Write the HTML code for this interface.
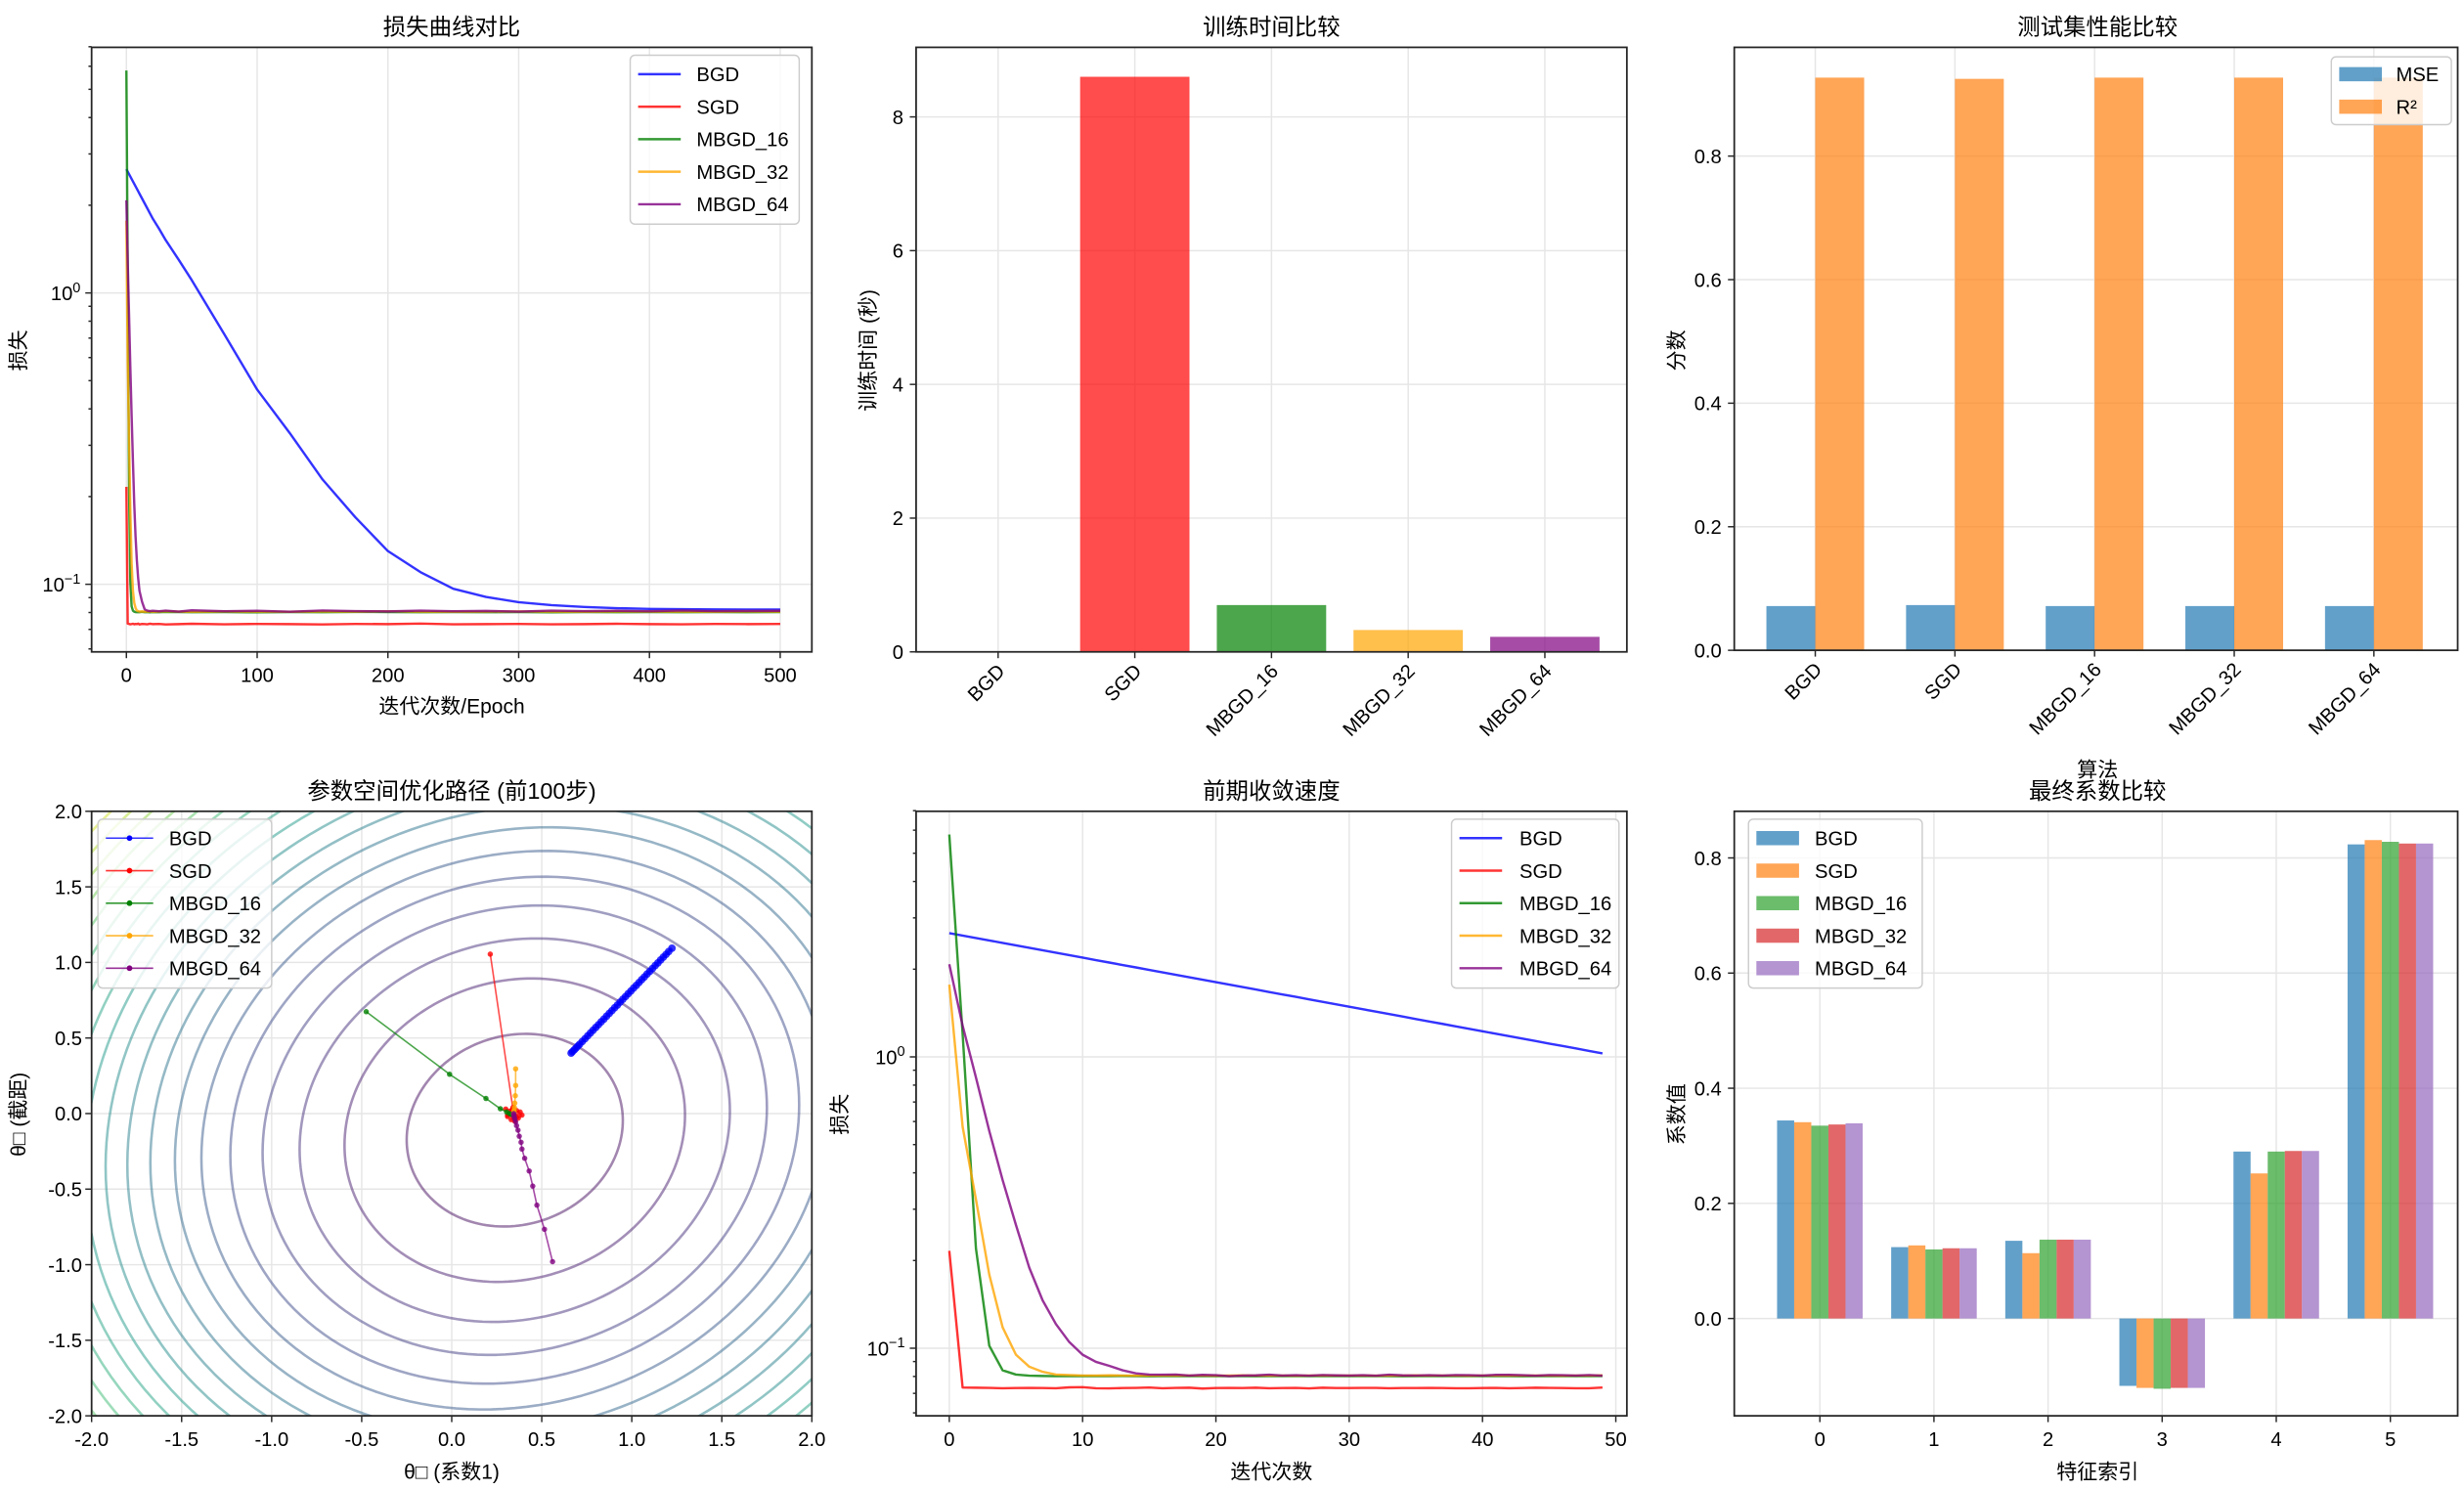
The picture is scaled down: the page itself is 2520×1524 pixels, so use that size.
<!DOCTYPE html>
<html><head><meta charset="utf-8">
<style>
html,body{margin:0;padding:0;background:#fff;width:2520px;height:1524px;overflow:hidden;}
svg{display:block;font-family:"Liberation Sans","Noto Sans CJK SC",sans-serif;}
</style></head>
<body>
<svg id="chart" xmlns="http://www.w3.org/2000/svg" width="2520" height="1524" viewBox="0 0 1560 944" preserveAspectRatio="none">
<defs>
<clipPath id="clip4"><rect x="58" y="514" width="456" height="383"/></clipPath>
</defs>
</svg>
<script>
// ---------- DATA ----------
const algos = ["BGD","SGD","MBGD_16","MBGD_32","MBGD_64"];
const lossEpochs = [0,1,2,3,4,5,6,7,8,9,10,12,14,16,18,20,25,30,40,50,75,100,125,150,175,200,225,250,275,300,325,350,375,400,425,450,475,500];
const lossBGD = [2.660,2.609,2.559,2.510,2.462,2.414,2.368,2.322,2.278,2.234,2.191,2.108,2.028,1.951,1.876,1.805,1.66,1.52,1.30,1.106,0.72,0.466,0.33,0.229,0.170,0.130,0.110,0.0965,0.0905,0.0868,0.0848,0.0836,0.0828,0.0823,0.0821,0.0820,0.0819,0.0819];
const lossSGD = [0.216,0.0733,0.0731,0.0729,0.0730,0.0732,0.0729,0.0731,0.0730,0.0733,0.0728,0.0731,0.0730,0.0729,0.0732,0.0730,0.0731,0.0728,0.0730,0.0732,0.0729,0.0731,0.0730,0.0728,0.0731,0.0730,0.0733,0.0729,0.0730,0.0731,0.0729,0.0730,0.0732,0.0730,0.0729,0.0731,0.0730,0.0731];
const lossM16 = [5.8,1.2,0.22,0.102,0.084,0.0812,0.0805,0.0803,0.0802,0.0803,0.0802,0.0804,0.0802,0.0803,0.0801,0.0803,0.0802,0.0804,0.0803,0.0802,0.0803,0.0801,0.0803,0.0802,0.0804,0.0803,0.0802,0.0803,0.0802,0.0803,0.0801,0.0803,0.0802,0.0803,0.0802,0.0803,0.0802,0.0803];
const lossM32 = [1.77,0.576,0.324,0.179,0.118,0.095,0.0864,0.083,0.0812,0.0809,0.0806,0.0807,0.0805,0.0806,0.0807,0.0805,0.0806,0.0808,0.0806,0.0805,0.0807,0.0806,0.0805,0.0807,0.0806,0.0808,0.0806,0.0805,0.0806,0.0807,0.0806,0.0805,0.0807,0.0806,0.0806,0.0805,0.0807,0.0806];
const lossM64 = [2.08,1.28,0.85,0.557,0.378,0.265,0.189,0.146,0.121,0.105,0.095,0.087,0.082,0.0812,0.0809,0.0811,0.0808,0.0812,0.0806,0.0814,0.0808,0.0811,0.0805,0.0813,0.0809,0.0807,0.0812,0.0808,0.0810,0.0806,0.0812,0.0809,0.0811,0.0808,0.0813,0.0809,0.0810,0.0811];

const earlyBGD = [2.660,2.609,2.559,2.510,2.462,2.414,2.368,2.322,2.278,2.234,2.191,2.149,2.108,2.067,2.028,1.989,1.951,1.913,1.876,1.840,1.805,1.770,1.736,1.703,1.670,1.638,1.607,1.576,1.545,1.516,1.487,1.458,1.430,1.403,1.376,1.349,1.323,1.298,1.273,1.248,1.224,1.201,1.178,1.155,1.133,1.111,1.090,1.069,1.048,1.028];
const earlySGD = [0.216,0.0733,0.0732,0.0731,0.0729,0.0730,0.0731,0.0730,0.0729,0.0734,0.0735,0.0729,0.0728,0.0730,0.0731,0.0733,0.0729,0.0731,0.0732,0.0727,0.0730,0.0731,0.0730,0.0732,0.0729,0.0730,0.0731,0.0728,0.0732,0.0730,0.0730,0.0731,0.0731,0.0729,0.0730,0.0730,0.0731,0.0730,0.0729,0.0729,0.0730,0.0731,0.0729,0.0730,0.0732,0.0731,0.0730,0.0729,0.0729,0.0733];
const earlyM16 = [5.8,1.2,0.22,0.102,0.084,0.0812,0.0805,0.0803,0.0802,0.0802,0.0803,0.0802,0.0802,0.0803,0.0802,0.0801,0.0802,0.0803,0.0802,0.0802,0.0803,0.0802,0.0802,0.0801,0.0802,0.0803,0.0802,0.0802,0.0803,0.0802,0.0802,0.0802,0.0803,0.0802,0.0801,0.0802,0.0802,0.0803,0.0802,0.0802,0.0803,0.0802,0.0802,0.0801,0.0802,0.0803,0.0802,0.0802,0.0802,0.0803];
const earlyM32 = [1.77,0.576,0.324,0.179,0.118,0.095,0.0864,0.083,0.0812,0.0809,0.0806,0.0806,0.0807,0.0806,0.0805,0.0806,0.0806,0.0807,0.0806,0.0806,0.0805,0.0806,0.0807,0.0806,0.0806,0.0806,0.0805,0.0806,0.0807,0.0806,0.0806,0.0806,0.0805,0.0806,0.0806,0.0807,0.0806,0.0806,0.0806,0.0805,0.0806,0.0806,0.0807,0.0806,0.0806,0.0806,0.0805,0.0806,0.0806,0.0807];
const earlyM64 = [2.08,1.28,0.85,0.557,0.378,0.265,0.189,0.146,0.121,0.105,0.095,0.0898,0.087,0.084,0.082,0.0812,0.0811,0.0812,0.0806,0.0810,0.0808,0.0802,0.0806,0.0807,0.0811,0.0806,0.0808,0.0805,0.0809,0.0807,0.0806,0.0808,0.0805,0.0811,0.0807,0.0806,0.0808,0.0806,0.0809,0.0808,0.0806,0.0810,0.0810,0.0808,0.0805,0.0809,0.0808,0.0806,0.0809,0.0805];

const trainTimes = [0.01,8.60,0.70,0.327,0.225];
const testMSE = [0.0716,0.0732,0.0716,0.0716,0.0716];
const testR2 = [0.927,0.925,0.927,0.927,0.927];

const featureIdx = [0,1,2,3,4,5];
const coefBGD = [0.344,0.124,0.135,-0.117,0.290,0.8235];
const coefSGD = [0.341,0.127,0.1135,-0.1205,0.252,0.831];
const coefM16 = [0.335,0.120,0.137,-0.122,0.290,0.828];
const coefM32 = [0.337,0.122,0.137,-0.1205,0.291,0.825];
const coefM64 = [0.339,0.122,0.137,-0.1205,0.291,0.825];

const contourLevels = [0.378,0.938,1.498,2.058,2.618,3.178,3.738,4.298,4.858,5.418,5.978,6.538,7.098,7.658,8.218,8.778,9.338,9.898,10.458,11.018];
const pathBGDx = [1.223,1.205,1.19,1.175,1.16,1.145,1.13,1.115,1.10,1.085,1.07,1.055,1.04,1.025,1.01,0.995,0.98,0.965,0.95,0.935,0.92,0.905,0.89,0.875,0.86,0.845,0.83,0.815,0.80,0.785,0.77,0.755,0.74,0.725,0.71,0.70,0.69,0.68,0.67,0.663];
const pathBGDy = [1.094,1.072,1.053,1.035,1.016,0.997,0.979,0.960,0.941,0.923,0.904,0.886,0.867,0.848,0.830,0.811,0.793,0.774,0.756,0.737,0.718,0.700,0.681,0.663,0.644,0.625,0.607,0.588,0.570,0.551,0.533,0.514,0.495,0.477,0.458,0.446,0.433,0.421,0.409,0.40];
const pathSGDx = [0.214,0.34,0.31,0.36,0.33,0.38,0.30,0.35,0.39,0.32,0.37,0.34,0.31,0.36,0.33];
const pathSGDy = [1.055,0.03,-0.02,0.02,-0.04,0.01,0.03,-0.05,-0.01,0.0,-0.03,0.04,-0.01,-0.02,0.02];
const pathM16x = [-0.475,-0.012,0.19,0.27,0.305,0.32,0.33,0.335,0.34];
const pathM16y = [0.674,0.26,0.10,0.032,0.01,0.0,-0.005,-0.005,0.0];
const pathM32x = [0.355,0.355,0.353,0.35,0.348,0.346,0.345,0.344,0.344];
const pathM32y = [0.296,0.186,0.118,0.069,0.04,0.02,0.01,0.0,-0.005];
const pathM64x = [0.56,0.515,0.473,0.45,0.43,0.405,0.39,0.385,0.375,0.368,0.36,0.355,0.35,0.347,0.345,0.344];
const pathM64y = [-0.98,-0.766,-0.606,-0.48,-0.38,-0.296,-0.235,-0.19,-0.15,-0.11,-0.08,-0.055,-0.035,-0.02,-0.01,0.0];

// ---------- HELPERS ----------
const NS = "http://www.w3.org/2000/svg";
const svg = document.getElementById("chart");
function mk(tag, attrs, name, parent) {
  const el = document.createElementNS(NS, tag);
  for (const k in attrs) el.setAttribute(k, attrs[k]);
  
  
  (parent || svg).appendChild(el);
  return el;
}
function txt(x, y, s, name, opts) {
  opts = opts || {};
  const t = mk("text", {x:x, y:y, "font-size":opts.size||12.5, fill:"#000", "text-anchor":opts.anchor||"middle"}, name, opts.parent);
  if (opts.transform) t.setAttribute("transform", opts.transform);
  t.textContent = s;
  return t;
}
function lin(d0,d1,r0,r1){ return v => r0 + (v-d0)/(d1-d0)*(r1-r0); }
function logs(d0,d1,r0,r1){ return v => r0 + (Math.log10(v)-d0)/(d1-d0)*(r1-r0); }
function frame(b, name){
  mk("rect",{x:b.x0,y:b.y0,width:b.x1-b.x0,height:b.y1-b.y0,fill:"none",stroke:"#262626","stroke-width":1.1}, name);
}
function gridV(b,x){ mk("line",{x1:x,x2:x,y1:b.y0,y2:b.y1,stroke:"#e6e6e6","stroke-width":0.9},"grid-line-x"); }
function gridH(b,y){ mk("line",{x1:b.x0,x2:b.x1,y1:y,y2:y,stroke:"#e6e6e6","stroke-width":0.9},"grid-line-y"); }
function tickX(b,x,len){ mk("line",{x1:x,x2:x,y1:b.y1,y2:b.y1+(len||4),stroke:"#262626","stroke-width":0.9},"x-tick"); }
function tickY(b,y,len){ mk("line",{x1:b.x0-(len||4),x2:b.x0,y1:y,y2:y,stroke:"#262626","stroke-width":0.9},"y-tick"); }
function poly(xs, ys, color, sw, name, opacity, clip){
  let d = "";
  for (let i=0;i<xs.length;i++) d += (i?"L":"M")+xs[i].toFixed(2)+","+ys[i].toFixed(2);
  const p = mk("path",{d:d,fill:"none",stroke:color,"stroke-width":sw,"stroke-opacity":opacity||1,"stroke-linejoin":"round"}, name);
  if (clip) p.setAttribute("clip-path", clip);
  return p;
}
function legendBox(x,y,w,h,name){
  mk("rect",{x:x,y:y,width:w,height:h,rx:3,fill:"#fff","fill-opacity":0.8,stroke:"#cccccc","stroke-width":0.9}, name);
}
function logTicks(b, ys){
  for (let e=-2;e<=0;e++){
    for (let m=1;m<=9;m++){
      const v = m*Math.pow(10,e);
      const y = ys(v);
      if (y < b.y0-0.5 || y > b.y1+0.5) continue;
      if (m===1){
        gridH(b,y); tickY(b,y,4);
        const t = txt(b.x0-7, y+4.5, "10", "y-tick-label", {anchor:"end"});
        const ts = document.createElementNS(NS,"tspan");
        ts.setAttribute("dy","-5"); ts.setAttribute("font-size","9");
        ts.textContent = e===0 ? "0" : "\u2212" + (-e);
        t.appendChild(ts);
      } else tickY(b,y,2);
    }
  }
}
const algoColors = ["#0000ff","#ff0000","#008000","#ffa500","#800080"];
const tab = ["#1f77b4","#ff7f0e","#2ca02c","#d62728","#9467bd"];

// ---------- PANEL 1 ----------
(function(){
  const b = {x0:58,x1:514,y0:30,y1:413};
  const xs = lin(-26.6,524.2,b.x0,b.x1), ys = logs(-1.232,0.843,b.y1,b.y0);
  [0,100,200,300,400,500].forEach(v=>{ gridV(b,xs(v)); tickX(b,xs(v)); txt(xs(v),b.y1+19,String(v),"x-tick-label"); });
  logTicks(b, ys);
  const series = [lossBGD,lossSGD,lossM16,lossM32,lossM64];
  series.forEach((s,i)=>{ poly(lossEpochs.map(xs), s.map(ys), algoColors[i], 1.5, "loss-line-"+algos[i].toLowerCase(), 0.8); });
  frame(b,"loss-axes");
  txt(286,22,"损失曲线对比","loss-chart-title",{size:14.5});
  txt(286,452,"迭代次数/Epoch","x-axis-title",{size:13});
  txt(16,222,"损失","y-axis-title",{size:13,transform:"rotate(-90 16 222)"});
  legendBox(399,35,107,107,"loss-legend");
  algos.forEach((a,i)=>{ const y=47+i*20.6;
    mk("line",{x1:404,x2:431,y1:y,y2:y,stroke:algoColors[i],"stroke-opacity":0.8,"stroke-width":1.5},"legend-entry-line");
    txt(441,y+4.5,a,"legend-entry",{anchor:"start"}); });
})();

// ---------- PANEL 2 ----------
(function(){
  const b = {x0:580,x1:1030,y0:30,y1:413};
  const xs = lin(-0.6,4.6,b.x0,b.x1), ys = lin(0,9.04,b.y1,b.y0);
  const bw = 0.8*(xs(1)-xs(0));
  [0,2,4,6,8].forEach(v=>{ gridH(b,ys(v)); tickY(b,ys(v)); txt(b.x0-8,ys(v)+4.5,String(v),"y-tick-label",{anchor:"end"}); });
  algos.forEach((a,i)=>{ gridV(b,xs(i)); });
  trainTimes.forEach((v,i)=>{
    mk("rect",{x:xs(i)-bw/2,y:ys(v),width:bw,height:ys(0)-ys(v),fill:algoColors[i],"fill-opacity":0.7},"time-bar-"+algos[i].toLowerCase());
  });
  algos.forEach((a,i)=>{ tickX(b,xs(i)); const x=xs(i)+5, y=b.y1+13;
    txt(x,y,a,"x-tick-label",{anchor:"end",transform:"rotate(-45 "+x+" "+y+")"}); });
  frame(b,"time-axes");
  txt(805,22,"训练时间比较","time-chart-title",{size:14.5});
  txt(554,222,"训练时间 (秒)","y-axis-title",{size:13,transform:"rotate(-90 554 222)"});
})();

// ---------- PANEL 3 ----------
(function(){
  const b = {x0:1098,x1:1556,y0:30,y1:412};
  const xs = lin(-0.58,4.6,b.x0,b.x1), ys = lin(0,0.976,b.y1,b.y0);
  const w = 0.35*(xs(1)-xs(0));
  [0,0.2,0.4,0.6,0.8].forEach(v=>{ gridH(b,ys(v)); tickY(b,ys(v)); txt(b.x0-8,ys(v)+4.5,v.toFixed(1),"y-tick-label",{anchor:"end"}); });
  algos.forEach((a,i)=>gridV(b,xs(i)));
  testMSE.forEach((v,i)=>{ mk("rect",{x:xs(i)-w,y:ys(v),width:w,height:ys(0)-ys(v),fill:tab[0],"fill-opacity":0.7},"mse-bar-"+algos[i].toLowerCase()); });
  testR2.forEach((v,i)=>{ mk("rect",{x:xs(i),y:ys(v),width:w,height:ys(0)-ys(v),fill:tab[1],"fill-opacity":0.7},"r2-bar-"+algos[i].toLowerCase()); });
  algos.forEach((a,i)=>{ tickX(b,xs(i)); const x=xs(i)+5, y=b.y1+13;
    txt(x,y,a,"x-tick-label",{anchor:"end",transform:"rotate(-45 "+x+" "+y+")"}); });
  frame(b,"score-axes");
  txt(1328,22,"测试集性能比较","score-chart-title",{size:14.5});
  txt(1328,492,"算法","x-axis-title",{size:13});
  txt(1066,222,"分数","y-axis-title",{size:13,transform:"rotate(-90 1066 222)"});
  legendBox(1476,36,76,43,"score-legend");
  ["MSE","R²"].forEach((s,i)=>{ const y=47+i*20.6;
    mk("rect",{x:1481,y:y-4.5,width:27,height:9,fill:tab[i],"fill-opacity":0.7},"legend-swatch");
    txt(1517,y+4.5,s,"legend-entry",{anchor:"start"}); });
})();

// ---------- PANEL 4 ----------
(function(){
  const b = {x0:58,x1:514,y0:514,y1:897};
  const xs = lin(-2,2,b.x0,b.x1), ys = lin(-2,2,b.y1,b.y0);
  const vir = ["#440154","#482878","#3e4989","#31688e","#26828e","#1f9e89","#35b779","#6ece58","#b5de2b","#fde725"];
  function vcol(t){ t=Math.max(0,Math.min(1,t)); const p=t*(vir.length-1), i=Math.min(vir.length-2,Math.floor(p)), f=p-i;
    const a=vir[i], c=vir[i+1]; const h=(s,k)=>parseInt(s.substr(1+2*k,2),16);
    return "rgb("+[0,1,2].map(k=>Math.round(h(a,k)+(h(c,k)-h(a,k))*f)).join(",")+")"; }
  const A=1.06, B=-0.1, C=0.94, cx=0.35, cy=-0.11, Lmax=11.2;
  for (let v=-2; v<=2.001; v+=0.5){ gridV(b,xs(v)); gridH(b,ys(v)); }
  contourLevels.forEach((L,k)=>{
    const px=[], py=[];
    for (let j=0;j<=180;j++){ const th=j/180*2*Math.PI, ux=Math.cos(th), uy=Math.sin(th);
      const r=Math.sqrt(L/(A*ux*ux+2*B*ux*uy+C*uy*uy)); px.push(xs(cx+r*ux)); py.push(ys(cy+r*uy)); }
    poly(px,py,vcol(L/Lmax),1.6,"contour-level-"+k,0.5,"url(#clip4)");
  });
  const paths = [[pathBGDx,pathBGDy],[pathSGDx,pathSGDy],[pathM16x,pathM16y],[pathM32x,pathM32y],[pathM64x,pathM64y]];
  paths.forEach((p,i)=>{
    const X=p[0].map(xs), Y=p[1].map(ys);
    poly(X,Y,algoColors[i],i===0?2:1,"path-"+algos[i].toLowerCase(),0.7);
    X.forEach((x,j)=>{ mk("circle",{cx:x,cy:Y[j],r:i===0?2.4:1.7,fill:algoColors[i],"fill-opacity":0.8},"path-point-"+algos[i].toLowerCase()); });
  });
  [-2,-1.5,-1,-0.5,0,0.5,1,1.5,2].forEach(v=>{
    tickX(b,xs(v)); txt(xs(v),b.y1+19,v.toFixed(1),"x-tick-label");
    tickY(b,ys(v)); txt(b.x0-6,ys(v)+4.5,v.toFixed(1),"y-tick-label",{anchor:"end"}); });
  frame(b,"param-axes");
  txt(286,506,"参数空间优化路径 (前100步)","param-chart-title",{size:14.5});
  txt(286,937,"θ□ (系数1)","x-axis-title",{size:13});
  txt(16,706,"θ□ (截距)","y-axis-title",{size:13,transform:"rotate(-90 16 706)"});
  legendBox(62,519,110,107,"param-legend");
  algos.forEach((a,i)=>{ const y=531+i*20.6;
    mk("line",{x1:67,x2:97,y1:y,y2:y,stroke:algoColors[i],"stroke-opacity":0.8,"stroke-width":1},"legend-entry-line");
    mk("circle",{cx:82,cy:y,r:1.8,fill:algoColors[i]},"legend-entry-marker");
    txt(107,y+4.5,a,"legend-entry",{anchor:"start"}); });
})();

// ---------- PANEL 5 ----------
(function(){
  const b = {x0:580,x1:1030,y0:514,y1:897};
  const xs = lin(-2.49,50.83,b.x0,b.x1), ys = logs(-1.232,0.843,b.y1,b.y0);
  [0,10,20,30,40,50].forEach(v=>{ gridV(b,xs(v)); tickX(b,xs(v)); txt(xs(v),b.y1+19,String(v),"x-tick-label"); });
  logTicks(b, ys);
  const series = [earlyBGD,earlySGD,earlyM16,earlyM32,earlyM64];
  series.forEach((s,i)=>{ const v=s.slice(0,50); poly(v.map((_,j)=>xs(j)), v.map(ys), algoColors[i], 1.5, "early-line-"+algos[i].toLowerCase(), 0.8); });
  frame(b,"early-axes");
  txt(805,506,"前期收敛速度","early-chart-title",{size:14.5});
  txt(805,937,"迭代次数","x-axis-title",{size:13});
  txt(536,706,"损失","y-axis-title",{size:13,transform:"rotate(-90 536 706)"});
  legendBox(919,519,106,107,"early-legend");
  algos.forEach((a,i)=>{ const y=531+i*20.6;
    mk("line",{x1:924,x2:951,y1:y,y2:y,stroke:algoColors[i],"stroke-opacity":0.8,"stroke-width":1.5},"legend-entry-line");
    txt(962,y+4.5,a,"legend-entry",{anchor:"start"}); });
})();

// ---------- PANEL 6 ----------
(function(){
  const b = {x0:1098,x1:1556,y0:514,y1:897};
  const xs = lin(-0.75,5.59,b.x0,b.x1), ys = lin(-0.169,0.881,b.y1,b.y0);
  const w = 0.15*(xs(1)-xs(0));
  [0,0.2,0.4,0.6,0.8].forEach(v=>{ gridH(b,ys(v)); tickY(b,ys(v)); txt(b.x0-8,ys(v)+4.5,v.toFixed(1),"y-tick-label",{anchor:"end"}); });
  featureIdx.forEach(f=>gridV(b,xs(f)));
  const coefs = [coefBGD,coefSGD,coefM16,coefM32,coefM64];
  coefs.forEach((s,j)=>{ s.forEach((v,f)=>{
    const x = xs(f + (j-2)*0.15) - w/2, y0=ys(0), y1=ys(v);
    mk("rect",{x:x,y:Math.min(y0,y1),width:w,height:Math.abs(y1-y0),fill:tab[j],"fill-opacity":0.7},"coef-bar-"+algos[j].toLowerCase());
  }); });
  featureIdx.forEach(f=>{ tickX(b,xs(f)); txt(xs(f),b.y1+19,String(f),"x-tick-label"); });
  frame(b,"coef-axes");
  txt(1328,506,"最终系数比较","coef-chart-title",{size:14.5});
  txt(1328,937,"特征索引","x-axis-title",{size:13});
  txt(1066,706,"系数值","y-axis-title",{size:13,transform:"rotate(-90 1066 706)"});
  legendBox(1107,519,110,107,"coef-legend");
  algos.forEach((a,i)=>{ const y=531+i*20.6;
    mk("rect",{x:1112,y:y-4.5,width:27,height:9,fill:tab[i],"fill-opacity":0.7},"legend-swatch");
    txt(1149,y+4.5,a,"legend-entry",{anchor:"start"}); });
})();
</script>
</body></html>
